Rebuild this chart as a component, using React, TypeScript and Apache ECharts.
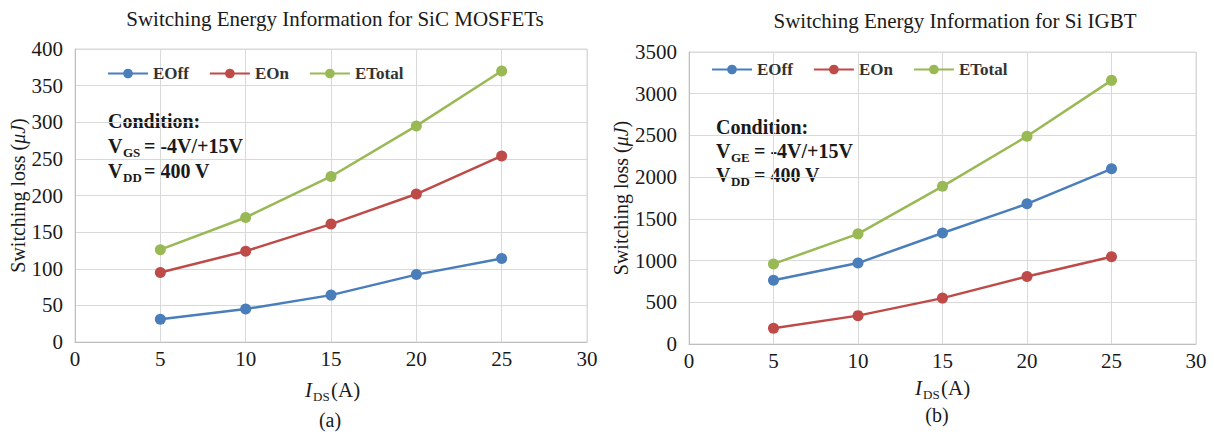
import React, { useEffect, useRef } from "react";
import * as echarts from "echarts";

// ---- data ----
const current = [5, 10, 15, 20, 25];
const seriesNames = ["EOff", "EOn", "ETotal"];
const sicEOff = [31, 45, 64, 92, 114];
const sicEOn = [95, 124, 161, 202, 254];
const sicETotal = [126, 170, 226, 295, 370];
const igbtEOff = [765, 970, 1330, 1680, 2100];
const igbtEOn = [190, 340, 550, 810, 1045];
const igbtETotal = [960, 1320, 1890, 2490, 3160];
const titles = ["Switching Energy Information for SiC MOSFETs", "Switching Energy Information for Si IGBT"];

const colors = ["#4a7ebb", "#be4b48", "#98b954"];
const SERIF = "Liberation Serif";
const TXT = "#1a1a1a";

function pairs(vals: number[]) {
  return current.map((x, i) => [x, vals[i]]);
}

function txt(x: number, y: number, text: string, size: number, weight = "normal", style = "normal", align = "left") {
  return {
    type: "text",
    x,
    y,
    silent: true,
    style: {
      text,
      fontFamily: SERIF,
      fontSize: size,
      fontWeight: weight,
      fontStyle: style,
      fill: TXT,
      textAlign: align,
      textVerticalAlign: "middle",
      verticalAlign: "middle",
    },
  };
}

export default function App() {
  const ref = useRef<HTMLDivElement>(null);
  useEffect(() => {
    if (!ref.current) return;
    const chart = echarts.init(ref.current, undefined, { renderer: "svg" });

    const axisCommon = {
      type: "value",
      axisTick: { show: false },
      axisLine: { show: true, lineStyle: { color: "#bfbfbf", width: 1 } },
      splitLine: { show: true, lineStyle: { color: "#d9d9d9", width: 1 } },
    };
    const labelStyle = { fontFamily: SERIF, fontSize: 21, color: TXT, formatter: (v: number) => String(v) };
    const yName = {
      name: "Switching loss ({i|μJ})",
      nameLocation: "middle",
      nameTextStyle: {
        fontFamily: SERIF,
        fontSize: 20,
        color: TXT,
        rich: { i: { fontFamily: SERIF, fontSize: 20, fontStyle: "italic", color: TXT } },
      },
    };
    const legendCommon = {
      itemWidth: 40,
      itemHeight: 12,
      itemGap: 20,
      textStyle: { fontFamily: SERIF, fontWeight: "bold", fontSize: 17, color: "#333" },
      data: seriesNames,
    };
    const mk = (name: string, vals: number[], idx: number, c: string) => ({
      name,
      type: "line",
      xAxisIndex: idx,
      yAxisIndex: idx,
      data: pairs(vals),
      symbol: "circle",
      symbolSize: 11,
      color: c,
      lineStyle: { width: 2.5, color: c },
      itemStyle: { color: c },
    });

    chart.setOption({
      animation: false,
      backgroundColor: "#ffffff",
      title: [
        { text: titles[0], left: 330, top: 3, textAlign: "center", textStyle: { fontFamily: SERIF, fontWeight: "normal", fontSize: 21, color: TXT } },
        { text: titles[1], left: 950, top: 5, textAlign: "center", textStyle: { fontFamily: SERIF, fontWeight: "normal", fontSize: 21, color: TXT } },
      ],
      grid: [
        { left: 75, top: 49, width: 512, height: 293, show: true, borderColor: "#d9d9d9", borderWidth: 1, containLabel: false },
        { left: 689, top: 52, width: 507, height: 292, show: true, borderColor: "#d9d9d9", borderWidth: 1, containLabel: false },
      ],
      xAxis: [
        { ...axisCommon, gridIndex: 0, min: 0, max: 30, interval: 5, axisLabel: { ...labelStyle, margin: 6 } },
        { ...axisCommon, gridIndex: 1, min: 0, max: 30, interval: 5, axisLabel: { ...labelStyle, margin: 6 } },
      ],
      yAxis: [
        { ...axisCommon, ...yName, nameGap: 47, gridIndex: 0, min: 0, max: 400, interval: 50, axisLabel: { ...labelStyle, margin: 12 } },
        { ...axisCommon, ...yName, nameGap: 56, gridIndex: 1, min: 0, max: 3500, interval: 500, axisLabel: { ...labelStyle, margin: 12 } },
      ],
      legend: [
        { ...legendCommon, left: 102, top: 60 },
        { ...legendCommon, left: 706, top: 56 },
      ],
      series: [
        mk(seriesNames[0], sicEOff, 0, colors[0]),
        mk(seriesNames[1], sicEOn, 0, colors[1]),
        mk(seriesNames[2], sicETotal, 0, colors[2]),
        mk(seriesNames[0], igbtEOff, 1, colors[0]),
        mk(seriesNames[1], igbtEOn, 1, colors[1]),
        mk(seriesNames[2], igbtETotal, 1, colors[2]),
      ],
      graphic: [
        // left condition
        txt(108, 121, "Condition:", 20, "bold"),
        txt(108, 146, "V", 20, "bold"),
        txt(123, 152, "GS", 13, "bold"),
        txt(144, 146, "= -4V/+15V", 20, "bold"),
        txt(108, 171, "V", 20, "bold"),
        txt(123, 177, "DD", 13, "bold"),
        txt(144, 171, "= 400 V", 20, "bold"),
        // right condition
        txt(716, 127, "Condition:", 20, "bold"),
        txt(716, 151, "V", 20, "bold"),
        txt(731, 157, "GE", 13, "bold"),
        txt(754, 151, "= -4V/+15V", 20, "bold"),
        txt(716, 175, "V", 20, "bold"),
        txt(731, 181, "DD", 13, "bold"),
        txt(754, 175, "= 400 V", 20, "bold"),
        // x axis names
        txt(305, 390, "I", 21, "normal", "italic"),
        txt(313, 396, "DS", 13),
        txt(331, 390, "(A)", 21),
        txt(330, 420, "(a)", 20, "normal", "normal", "center"),
        txt(915, 388, "I", 21, "normal", "italic"),
        txt(923, 394, "DS", 13),
        txt(941, 388, "(A)", 21),
        txt(937, 415, "(b)", 20, "normal", "normal", "center"),
      ],
    });
    return () => chart.dispose();
  }, []);
  return <div ref={ref} style={{ position: "absolute", left: 0, top: 0, width: 1214, height: 439 }} />;
}
